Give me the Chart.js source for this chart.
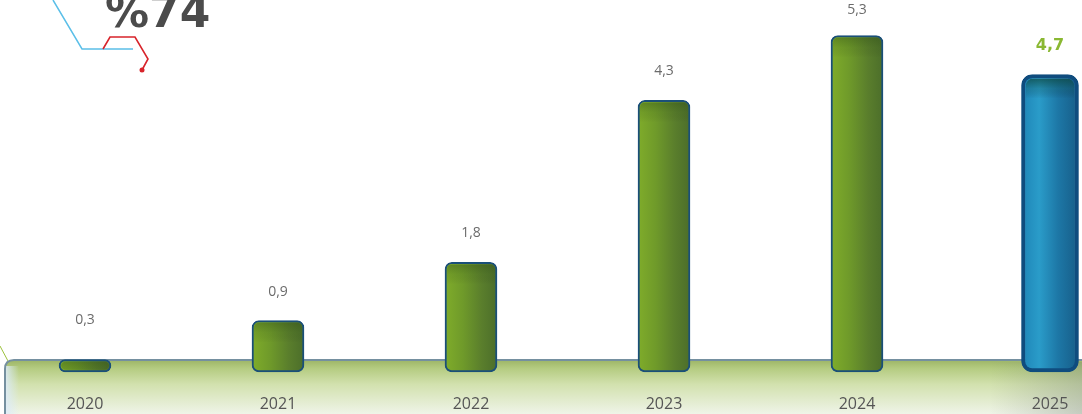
<!DOCTYPE html>
<html lang="fa">
<head>
<meta charset="UTF-8">
<title>Chart</title>
<script src="https://cdn.jsdelivr.net/npm/chart.js"></script>
<style>
    html, body { margin: 0; padding: 0; background: #fff; overflow: hidden; }
    .wrap { width: 1082px; height: 414px; position: relative; }
</style>
</head>
<body>
<div class="wrap"><canvas id="c"></canvas></div>
<script>
    // data
    const years = ['2020', '2021', '2022', '2023', '2024', '2025'];
    const values = [0.3, 0.9, 1.8, 4.3, 5.3, 4.7];
    const valueLabels = ['0,3', '0,9', '1,8', '4,3', '5,3', '4,7'];
    const headline = '%74';

    const LAST = values.length - 1;
    // past years green, forecast year blue
    const pastValues = values.map((v, i) => i < LAST ? v : null);
    const forecastValues = values.map((v, i) => i === LAST ? v : null);

    function barFill(blue) {
        return ctx => {
            const chart = ctx.chart;
            const xs = chart.scales.x;
            if (!chart.chartArea || !xs) return blue ? '#1f86b8' : '#6a9a2c';
            const cx = xs.getPixelForValue(ctx.dataIndex);
            const g = chart.ctx.createLinearGradient(cx - 27, 0, cx + 27, 0);
            if (blue) {
                g.addColorStop(0, '#1f86b8');
                g.addColorStop(0.3, '#2a9cc9');
                g.addColorStop(0.65, '#1d77a6');
                g.addColorStop(1, '#175f8a');
            } else {
                g.addColorStop(0, '#80ad2a');
                g.addColorStop(0.35, '#6f9a2a');
                g.addColorStop(0.7, '#5a7e2c');
                g.addColorStop(1, '#4b6d2a');
            }
            return g;
        };
    }

    // green platform under the bars
    const platform = {
        id: 'platform',
        beforeDatasetsDraw(chart) {
            const c = chart.ctx;
            const top = 360, left = 5, r = 9;
            c.save();
            c.strokeStyle = '#9cc13c';
            c.lineWidth = 1;
            c.beginPath();
            c.moveTo(0, 346);
            c.lineTo(8, 361);
            c.stroke();

            const g = c.createLinearGradient(0, top, 0, 414);
            g.addColorStop(0, '#9db566');
            g.addColorStop(0.15, '#b4cb80');
            g.addColorStop(0.45, '#d2e1ae');
            g.addColorStop(1, '#eff4e8');
            c.beginPath();
            c.moveTo(left, 420);
            c.lineTo(left, top + r);
            c.quadraticCurveTo(left, top, left + r, top);
            c.lineTo(1090, top);
            c.lineTo(1090, 420);
            c.closePath();
            c.fillStyle = g;
            c.fill();

            const sh = c.createLinearGradient(990, 0, 1082, 0);
            sh.addColorStop(0, 'rgba(120,130,120,0)');
            sh.addColorStop(1, 'rgba(120,130,120,0.35)');
            c.fillStyle = sh;
            c.fillRect(990, top + 2, 92, 60);

            const le = c.createLinearGradient(left, 0, left + 14, 0);
            le.addColorStop(0, 'rgba(220,235,250,0.9)');
            le.addColorStop(1, 'rgba(220,235,250,0)');
            c.fillStyle = le;
            c.fillRect(left, top + 6, 14, 60);

            c.beginPath();
            c.moveTo(left, 420);
            c.lineTo(left, top + r);
            c.quadraticCurveTo(left, top, left + r, top);
            c.lineTo(1090, top);
            c.strokeStyle = '#7590a0';
            c.lineWidth = 2;
            c.stroke();
            c.restore();
        }
    };

    function roundRect(c, x, y, w, h, r) {
        c.beginPath();
        c.moveTo(x + r, y);
        c.arcTo(x + w, y, x + w, y + h, r);
        c.arcTo(x + w, y + h, x, y + h, r);
        c.arcTo(x, y + h, x, y, r);
        c.arcTo(x, y, x + w, y, r);
        c.closePath();
    }

    // darker tops on the bars, value labels, year labels, header decoration
    const labelsPlugin = {
        id: 'labels',
        afterDatasetsDraw(chart) {
            const c = chart.ctx;
            c.save();
            [0, 1].forEach(d => {
                chart.getDatasetMeta(d).data.forEach((bar, i) => {
                    if ((d === 0) !== (i < LAST)) return;
                    const bw = d === 1 ? 4 : 2;
                    const x = bar.x - bar.width / 2 + bw, y = bar.y + bw;
                    const w = bar.width - 2 * bw, h = bar.base - bar.y - 2 * bw;
                    if (h <= 0) return;
                    c.save();
                    roundRect(c, x, y, w, h, d === 1 ? 8 : 5);
                    c.clip();
                    const g = c.createLinearGradient(0, y, 0, y + 20);
                    g.addColorStop(0, d === 1 ? 'rgba(12,70,60,0.7)' : 'rgba(40,70,20,0.35)');
                    g.addColorStop(0.5, d === 1 ? 'rgba(12,70,60,0.25)' : 'rgba(40,70,20,0.12)');
                    g.addColorStop(1, 'rgba(0,0,0,0)');
                    c.fillStyle = g;
                    c.fillRect(x, y, w, 20);
                    c.restore();
                });
            });

            c.textAlign = 'center';
            c.textBaseline = 'middle';
            years.forEach((yr, i) => {
                const meta = chart.getDatasetMeta(i === LAST ? 1 : 0);
                const bar = meta.data[i];
                if (i === LAST) {
                    c.font = 'bold 16px "DejaVu Sans", sans-serif';
                    c.fillStyle = '#8ab832';
                } else {
                    c.font = '14px "Open Sans", sans-serif';
                    c.fillStyle = '#6b6b6b';
                }
                const off = i === 0 ? 40 : (i === 4 ? 26 : 29);
                c.fillText(valueLabels[i], bar.x, bar.y - off);
                c.font = '16px "Open Sans", sans-serif';
                c.fillStyle = '#555';
                c.fillText(yr, bar.x, 404);
            });
            c.restore();
        },
        afterDraw(chart) {
            const c = chart.ctx;
            c.save();
            c.lineWidth = 1.5;
            c.strokeStyle = '#5bbfe8';
            c.beginPath();
            c.moveTo(53, 0);
            c.lineTo(82, 49);
            c.lineTo(133, 49);
            c.stroke();

            c.strokeStyle = '#d8242b';
            c.lineWidth = 1.6;
            c.beginPath();
            c.moveTo(103, 49);
            c.lineTo(110, 37);
            c.lineTo(135, 37);
            c.lineTo(148, 59);
            c.lineTo(142, 70);
            c.stroke();
            c.fillStyle = '#d8242b';
            c.beginPath();
            c.arc(142, 70, 2.5, 0, Math.PI * 2);
            c.fill();

            c.font = 'bold 44px "DejaVu Sans", sans-serif';
            c.fillStyle = '#4b4b4b';
            c.textAlign = 'left';
            c.textBaseline = 'alphabetic';
            c.fillText(headline, 105, 27);
            c.restore();
        }
    };

    new Chart(document.getElementById('c'), {
        type: 'bar',
        data: {
            labels: years,
            datasets: [{
                data: pastValues,
                base: 0.11,
                clip: false,
                barThickness: 52,
                backgroundColor: barFill(false),
                borderColor: '#1a4f78',
                borderWidth: 2,
                borderRadius: 7,
                borderSkipped: false
            }, {
                data: forecastValues,
                base: 0.11,
                clip: false,
                barThickness: 57,
                backgroundColor: barFill(true),
                borderColor: '#0f4c7e',
                borderWidth: 4,
                borderRadius: 11,
                borderSkipped: false
            }]
        },
        options: {
            responsive: true,
            maintainAspectRatio: false,
            animation: false,
            datasets: { bar: { grouped: false } },
            layout: { padding: { left: 85, right: 32, top: 0, bottom: 35 } },
            scales: {
                x: { display: false, offset: false },
                y: { display: false, min: 0, max: 5.85 }
            },
            plugins: {
                legend: { display: false },
                tooltip: { enabled: false }
            }
        },
        plugins: [platform, labelsPlugin]
    });
</script>
</body>
</html>
